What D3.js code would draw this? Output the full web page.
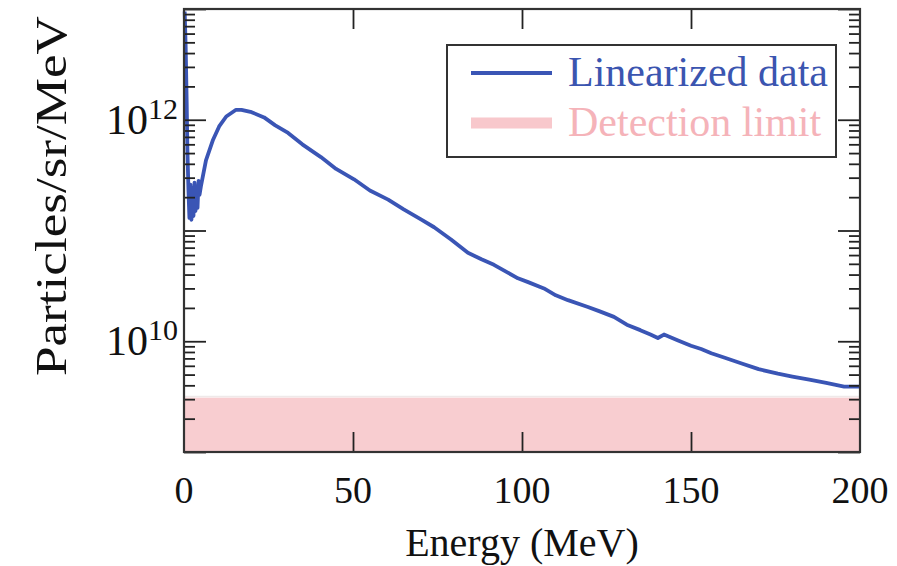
<!DOCTYPE html>
<html>
<head>
<meta charset="utf-8">
<script src="https://cdn.jsdelivr.net/npm/d3@7"></script>
<style>
  body { margin: 0; background: #fff; }
  svg text { font-family: "Liberation Serif", "Times New Roman", serif; }
</style>
</head>
<body>
<svg id="chart" width="897" height="566"></svg>
<script>
// energy (MeV) and spectrum values
const energy = [0.2, 0.5, 0.8, 1.0, 1.3, 1.6, 1.9, 2.2, 2.5, 2.8, 3.1, 3.4, 3.7, 4.0, 4.3, 4.6,
  5.0, 6.5, 8.6, 10.4, 12.5, 15.4, 17, 20, 23.7, 27, 30.8, 35, 40.5, 45, 50.3, 55, 60.4, 65,
  70.1, 74, 79, 84, 88, 91.7, 95, 98.8, 102, 106.5, 110, 113.6, 119.5, 123, 127.2, 131, 135,
  138, 140.2, 142, 146, 150, 153, 156, 160, 165, 170, 175.7, 180, 185, 190, 195.3, 200];
const particles = [9.5e12, 4.5e12, 1.4e12, 5.5e11, 2.4e11, 1.3e11, 2.6e11, 1.25e11, 2.4e11, 1.35e11,
  2.7e11, 1.5e11, 2.5e11, 1.6e11, 2.8e11, 2.1e11,
  2.5e11, 4.3e11, 6.6e11, 8.7e11, 1.07e12, 1.23e12, 1.23e12, 1.17e12, 1.05e12, 8.9e11, 7.6e11,
  6.0e11, 4.6e11, 3.6e11, 2.9e11, 2.3e11, 1.9e11, 1.55e11, 1.26e11, 1.07e11, 8.3e10, 6.3e10,
  5.5e10, 4.9e10, 4.3e10, 3.7e10, 3.4e10, 3.0e10, 2.6e10, 2.35e10, 2.04e10, 1.86e10, 1.66e10,
  1.41e10, 1.26e10, 1.15e10, 1.07e10, 1.15e10, 1.02e10, 9.1e9, 8.5e9, 7.8e9, 7.1e9, 6.3e9,
  5.6e9, 5.1e9, 4.8e9, 4.5e9, 4.2e9, 3.9e9, 3.9e9];
const detectionLimit = 3.1e9;

const xTickValues = [0, 50, 100, 150, 200];
const yLabelExponents = [12, 10];

const svg = d3.select("#chart");
const plotL = 184, plotR = 860, plotT = 9, plotB = 452;

const x = d3.scaleLinear().domain([0, 200]).range([plotL, plotR]);
const y = d3.scaleLog().domain([1e9, 1e13]).range([plotB, plotT]);

// detection limit band
svg.append("rect")
  .attr("x", plotL).attr("y", y(detectionLimit))
  .attr("width", plotR - plotL).attr("height", plotB - y(detectionLimit))
  .attr("fill", "#f8cdd0");
svg.append("line")
  .attr("x1", plotL).attr("x2", plotR)
  .attr("y1", y(detectionLimit) - 1).attr("y2", y(detectionLimit) - 1)
  .attr("stroke", "#efe9e9").attr("stroke-width", 1.5);

// data line
const points = energy.map((e, i) => [e, particles[i]]);
svg.append("path")
  .datum(points)
  .attr("fill", "none")
  .attr("stroke", "#3a55b5")
  .attr("stroke-width", 3.8)
  .attr("stroke-linejoin", "round")
  .attr("d", d3.line().x(d => x(d[0])).y(d => y(d[1])));

// ticks (inward, on all four sides)
const majors = [1e9, 1e10, 1e11, 1e12, 1e13];
const minors = y.ticks().filter(v => !majors.some(m => Math.abs(m - v) / m < 1e-6));

function tickAxis(axisFn, scale, vals, size, tx, ty) {
  const g = svg.append("g")
    .attr("transform", `translate(${tx},${ty})`)
    .call(axisFn(scale).tickValues(vals).tickSize(size).tickSizeOuter(0).tickFormat(""));
  g.select(".domain").remove();
  g.selectAll("line").attr("stroke", "#222").attr("stroke-width", 1.8);
}
tickAxis(d3.axisLeft, y, majors, -22, plotL, 0);
tickAxis(d3.axisLeft, y, minors, -11, plotL, 0);
tickAxis(d3.axisRight, y, majors, -22, plotR, 0);
tickAxis(d3.axisRight, y, minors, -11, plotR, 0);
tickAxis(d3.axisBottom, x, [50, 100, 150], -20, 0, plotB);
tickAxis(d3.axisTop, x, [50, 100, 150], -20, 0, plotT);

// frame
svg.append("rect")
  .attr("x", plotL).attr("y", plotT)
  .attr("width", plotR - plotL).attr("height", plotB - plotT)
  .attr("fill", "none").attr("stroke", "#333").attr("stroke-width", 2.2);

// x tick labels
svg.selectAll(".xlab")
  .data(xTickValues)
  .join("text")
  .attr("class", "xlab")
  .attr("x", d => x(d))
  .attr("y", 503)
  .attr("text-anchor", "middle")
  .attr("font-size", 38)
  .attr("fill", "#111")
  .text(d => d);

// y tick labels 10^n
const ylab = svg.selectAll(".ylab")
  .data(yLabelExponents)
  .join("text")
  .attr("class", "ylab")
  .attr("x", 178)
  .attr("y", d => y(Math.pow(10, d)) + 14)
  .attr("text-anchor", "end")
  .attr("fill", "#111");
ylab.append("tspan").attr("font-size", 42).text("10");
ylab.append("tspan").attr("font-size", 30).attr("dy", -15).text(d => d);

// axis titles
svg.append("text")
  .attr("x", (plotL + plotR) / 2)
  .attr("y", 556)
  .attr("text-anchor", "middle")
  .attr("font-size", 40)
  .attr("fill", "#111")
  .text("Energy (MeV)");

svg.append("text")
  .attr("transform", "translate(66,196) rotate(-90)")
  .attr("text-anchor", "middle")
  .attr("font-size", 44)
  .attr("textLength", 360)
  .attr("lengthAdjust", "spacingAndGlyphs")
  .attr("fill", "#111")
  .text("Particles/sr/MeV");

// legend
const legend = svg.append("g");
legend.append("rect")
  .attr("x", 447).attr("y", 45).attr("width", 389).attr("height", 112)
  .attr("fill", "#fff").attr("stroke", "#333").attr("stroke-width", 2);
const legendItems = [
  { label: "Linearized data", color: "#3a55b5", text: "#3b55b0", width: 4, yy: 73 },
  { label: "Detection limit", color: "#f8c8cc", text: "#f5b3b9", width: 11, yy: 123 }
];
legendItems.forEach(it => {
  legend.append("line")
    .attr("x1", 471).attr("x2", 552).attr("y1", it.yy).attr("y2", it.yy)
    .attr("stroke", it.color).attr("stroke-width", it.width);
  legend.append("text")
    .attr("x", 568).attr("y", it.yy + 13)
    .attr("font-size", 42)
    .attr("fill", it.text)
    .text(it.label);
});
</script>
</body>
</html>
